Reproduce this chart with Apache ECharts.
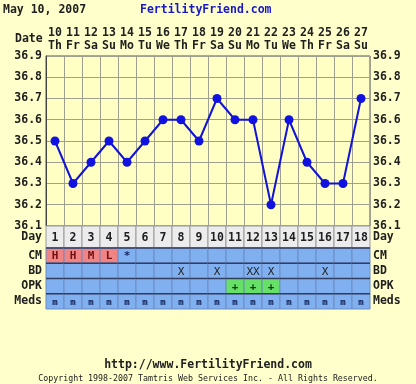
<!DOCTYPE html>
<html><head><meta charset="utf-8">
<script src="https://cdn.jsdelivr.net/npm/echarts@6/dist/echarts.min.js"></script>
<style>html,body{margin:0;padding:0;background:#ffffcc;}#c{width:416px;height:384px;}</style>
</head><body><div id="c"></div>
<script>
const dates = ['10','11','12','13','14','15','16','17','18','19','20','21','22','23','24','25','26','27'];
const weekdays = ['Th','Fr','Sa','Su','Mo','Tu','We','Th','Fr','Sa','Su','Mo','Tu','We','Th','Fr','Sa','Su'];
const cycleDays = ['1','2','3','4','5','6','7','8','9','10','11','12','13','14','15','16','17','18'];
const temps = [36.5,36.3,36.4,36.5,36.4,36.5,36.6,36.6,36.5,36.7,36.6,36.6,36.2,36.6,36.4,36.3,36.3,36.7];
const rowNames = ['CM','BD','OPK','Meds'];
const cm   = ['H','H','M','L','*','','','','','','','','','','','','',''];
const bd   = ['','','','','','','','X','','X','','XX','X','','','X','',''];
const opk  = ['','','','','','','','','','','+','+','+','','','','',''];
const meds = ['m','m','m','m','m','m','m','m','m','m','m','m','m','m','m','m','m','m'];
const tableRows = [cm, bd, opk, meds];

const FONT = 'DejaVu Sans Mono';
const chart = echarts.init(document.getElementById('c'));

const tableData = [];
tableRows.forEach((row, r) => row.forEach((v, i) => tableData.push([i, r])));
const dayData = cycleDays.map((d, i) => [i, 0]);

function tableItem(params, api) {
  const i = api.value(0), r = api.value(1);
  const c = api.coord([i, r]);
  const s = api.size([1, 1]);
  const x0 = c[0] - s[0] / 2, y0 = c[1] - s[1] / 2;
  const txt = tableRows[r][i];
  let fill = '#80b0f0', color = '#1a2a60', font = 'bold 11px ' + FONT;
  if (r === 0 && /[HML]/.test(txt)) { fill = '#f08484'; color = '#701010'; }
  if (r === 2 && txt === '+') { fill = '#66e066'; color = '#104010'; }
  if (r === 1) { color = '#222'; font = '11px ' + FONT; }
  if (r === 3) { font = 'bold 9px ' + FONT; color = '#0c1c50'; }
  return {
    type: 'group',
    children: [
      { type: 'rect', shape: { x: x0, y: y0, width: s[0], height: s[1] },
        style: { fill: fill, stroke: '#6c8cc4', lineWidth: 1 } },
      { type: 'line', shape: { x1: x0, y1: y0, x2: x0 + s[0], y2: y0 },
        style: { stroke: '#303c60', lineWidth: 1.5 } },
      { type: 'text', x: c[0], y: c[1] + 1,
        style: { text: txt, font: font, fill: color, align: 'center', verticalAlign: 'middle' } }
    ]
  };
}

function dayItem(params, api) {
  const i = api.value(0);
  const c = api.coord([i, 0]);
  const s = api.size([1, 1]);
  return {
    type: 'group',
    children: [
      { type: 'rect', shape: { x: c[0] - s[0] / 2, y: c[1] - s[1] / 2, width: s[0], height: s[1] },
        style: { fill: '#ececec', stroke: '#9a9a9a', lineWidth: 1 } },
      { type: 'text', x: c[0], y: c[1] + 1,
        style: { text: cycleDays[i], font: 'bold 11.5px ' + FONT, fill: '#202020', align: 'center', verticalAlign: 'middle' } }
    ]
  };
}

const labelStyle = { fontFamily: FONT, fontWeight: 'bold', fontSize: 11.5, color: '#202020' };

chart.setOption({
  backgroundColor: '#ffffcc',
  animation: false,
  grid: [
    { left: 46, width: 324, top: 56, height: 170, show: true, backgroundColor: '#ffffc4', borderColor: '#555', borderWidth: 1 },
    { left: 46, width: 324, top: 226, height: 22 },
    { left: 46, width: 324, top: 248, height: 61 }
  ],
  xAxis: [
    { gridIndex: 0, type: 'category', data: dates, position: 'top', boundaryGap: true,
      axisLine: { show: false }, axisTick: { show: false },
      splitLine: { show: true, interval: 0, lineStyle: { color: '#a0a090', width: 1 } },
      axisLabel: Object.assign({}, labelStyle, { interval: 0, margin: 4, lineHeight: 12.5,
        formatter: (v, i) => dates[i] + '\n' + weekdays[i] }) },
    { gridIndex: 1, type: 'category', data: cycleDays, show: false },
    { gridIndex: 2, type: 'category', data: cycleDays, show: false }
  ],
  yAxis: [
    { gridIndex: 0, type: 'value', min: 36.1, max: 36.9, interval: 0.1, position: 'left',
      axisLine: { show: true, lineStyle: { color: '#444' } }, axisTick: { show: false },
      splitLine: { show: true, lineStyle: { color: '#a0a090', width: 1 } },
      axisLabel: Object.assign({}, labelStyle, { margin: 4, formatter: v => v.toFixed(1) }) },
    { gridIndex: 0, type: 'value', min: 36.1, max: 36.9, interval: 0.1, position: 'right',
      axisLine: { show: false }, axisTick: { show: false }, splitLine: { show: false },
      axisLabel: Object.assign({}, labelStyle, { margin: 3, formatter: v => v.toFixed(1) }) },
    { gridIndex: 1, type: 'category', data: ['Day'], position: 'left',
      axisLine: { show: false }, axisTick: { show: false },
      axisLabel: Object.assign({}, labelStyle, { margin: 4, interval: 0 }) },
    { gridIndex: 1, type: 'category', data: ['Day'], position: 'right',
      axisLine: { show: false }, axisTick: { show: false },
      axisLabel: Object.assign({}, labelStyle, { margin: 3, interval: 0 }) },
    { gridIndex: 2, type: 'category', data: rowNames, inverse: true, position: 'left',
      axisLine: { show: false }, axisTick: { show: false },
      axisLabel: Object.assign({}, labelStyle, { margin: 4, interval: 0 }) },
    { gridIndex: 2, type: 'category', data: rowNames, inverse: true, position: 'right',
      axisLine: { show: false }, axisTick: { show: false },
      axisLabel: Object.assign({}, labelStyle, { margin: 3, interval: 0 }) }
  ],
  series: [
    { type: 'line', xAxisIndex: 0, yAxisIndex: 0, data: temps,
      symbol: 'circle', symbolSize: 9, z: 5,
      lineStyle: { color: '#1212d8', width: 2 },
      itemStyle: { color: '#1212e0' } },
    { type: 'custom', xAxisIndex: 1, yAxisIndex: 2, data: dayData, renderItem: dayItem },
    { type: 'custom', xAxisIndex: 2, yAxisIndex: 4, data: tableData, renderItem: tableItem }
  ],
  graphic: [
    { type: 'text', left: 3, top: 4, style: { text: 'May 10, 2007', font: 'bold 11.5px ' + FONT, fill: '#202020' } },
    { type: 'text', left: 140, top: 4, style: { text: 'FertilityFriend.com', font: 'bold 11.5px ' + FONT, fill: '#1818c8' } },
    { type: 'text', left: 15, top: 33, style: { text: 'Date', font: 'bold 11.5px ' + FONT, fill: '#202020' } },
    { type: 'text', x: 208, y: 365, style: { text: 'http://www.FertilityFriend.com', font: 'bold 11.5px ' + FONT, fill: '#202020', align: 'center', verticalAlign: 'middle' } },
    { type: 'text', x: 208, y: 379, style: { text: 'Copyright 1998-2007 Tamtris Web Services Inc. - All Rights Reserved.', font: '8.3px ' + FONT, fill: '#202020', align: 'center', verticalAlign: 'middle' } }
  ]
});
</script></body></html>
